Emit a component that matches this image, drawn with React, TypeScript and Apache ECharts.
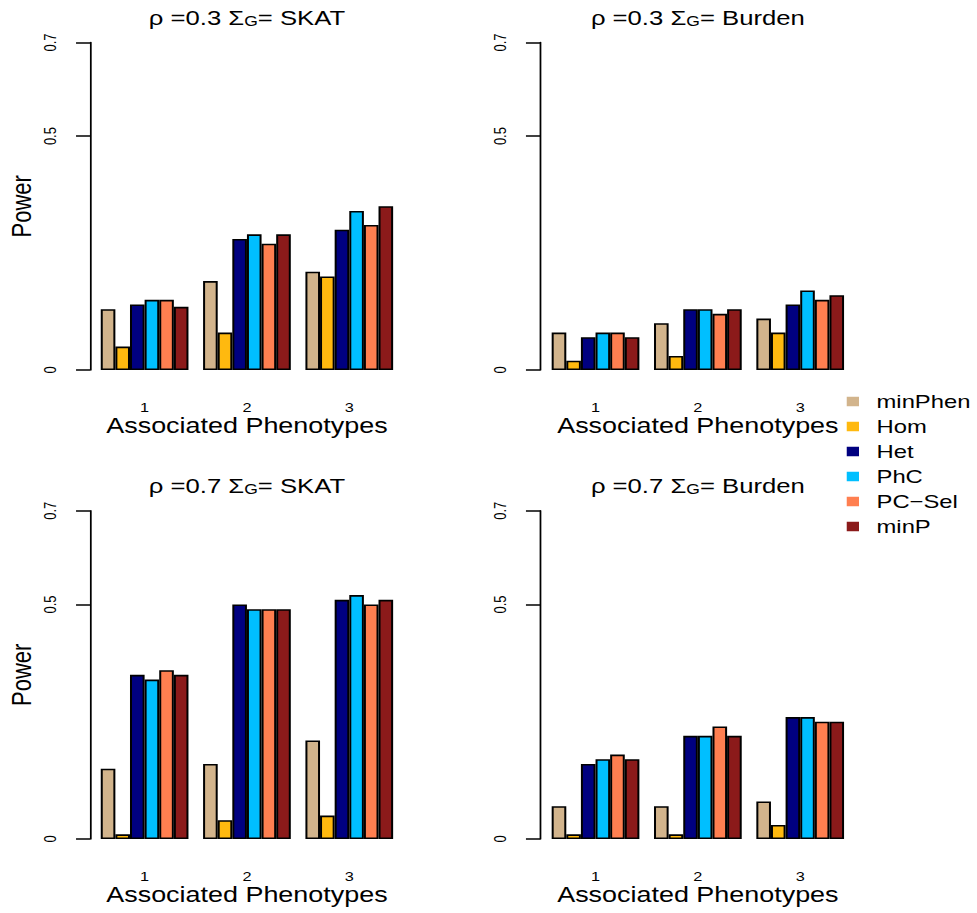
import React, { useEffect, useRef } from 'react';
import * as echarts from 'echarts';

// ---------- data ----------
const categories = ['1', '2', '3'];
const methods = ['minPhen', 'Hom', 'Het', 'PhC', 'PC\u2212Sel', 'minP'];
const yTicks = [0, 0.5, 0.7];

// rows = methods (minPhen, Hom, Het, PhC, PC-Sel, minP), columns = associated phenotypes 1..3
const rho03Skat: number[][] = [
  [0.13, 0.19, 0.21],
  [0.05, 0.08, 0.2],
  [0.14, 0.28, 0.3],
  [0.15, 0.29, 0.34],
  [0.15, 0.27, 0.31],
  [0.135, 0.29, 0.35],
];
const rho03Burden: number[][] = [
  [0.08, 0.1, 0.11],
  [0.02, 0.03, 0.08],
  [0.07, 0.13, 0.14],
  [0.08, 0.13, 0.17],
  [0.08, 0.12, 0.15],
  [0.07, 0.13, 0.16],
];
const rho07Skat: number[][] = [
  [0.15, 0.16, 0.21],
  [0.01, 0.04, 0.05],
  [0.35, 0.5, 0.51],
  [0.34, 0.49, 0.52],
  [0.36, 0.49, 0.5],
  [0.35, 0.49, 0.51],
];
const rho07Burden: number[][] = [
  [0.07, 0.07, 0.08],
  [0.01, 0.01, 0.03],
  [0.16, 0.22, 0.26],
  [0.17, 0.22, 0.26],
  [0.18, 0.24, 0.25],
  [0.17, 0.22, 0.25],
];

const panelRho = ['0.3', '0.3', '0.7', '0.7'];
const panelSigma = ['SKAT', 'Burden', 'SKAT', 'Burden'];
const panelData = [rho03Skat, rho03Burden, rho07Skat, rho07Burden];

// ---------- styles / layout ----------
const colors = ['#D2B48C', '#FFB90F', '#000080', '#00BFFF', '#FF7F50', '#8B1A1A'];
const FONT = 'Liberation Sans, Arial, Helvetica, sans-serif';
const W = 780;
const H = 913;
const SX = 977 / W;

const gridLeft = [74.6, 434.6, 74.6, 434.6];
const gridTop = [42.5, 42.5, 510.7, 510.7];
const gridW = 245.1;
const gridH = [327.5, 327.5, 328.3, 328.3];
const axisOffset = [2.7, 3.5, 2.7, 3.5];

function buildOption() {
  const grid = panelData.map((_, i) => ({
    left: gridLeft[i],
    top: gridTop[i],
    width: gridW,
    height: gridH[i],
    containLabel: false,
  }));

  const xAxis = panelData.map((_, i) => ({
    gridIndex: i,
    type: 'category',
    data: categories,
    axisLine: { show: false },
    axisTick: { show: false },
    splitLine: { show: false },
    axisLabel: { margin: 31, fontSize: 13, color: '#000', fontFamily: FONT },
    name: 'Associated Phenotypes',
    nameLocation: 'middle',
    nameGap: 44,
    nameTextStyle: { fontSize: 21.5, color: '#000', fontFamily: FONT },
  }));

  const yAxis = panelData.map((_, i) => ({
    gridIndex: i,
    type: 'value',
    min: 0,
    max: 0.7,
    offset: axisOffset[i],
    axisLine: { show: true, lineStyle: { color: '#000', width: 1.4 } },
    axisTick: {
      show: true,
      length: 11.2,
      customValues: yTicks,
      lineStyle: { color: '#000', width: 1.5 },
    },
    axisLabel: {
      customValues: yTicks,
      rotate: 90,
      margin: 25,
      fontSize: 13,
      color: '#000',
      fontFamily: FONT,
    },
    splitLine: { show: false },
    name: i % 2 === 0 ? 'Power' : '',
    nameLocation: 'middle',
    nameRotate: 90,
    nameGap: 44,
    nameTextStyle: { fontSize: 22, color: '#000', fontFamily: FONT },
  }));

  const series: any[] = [];
  panelData.forEach((rows, i) => {
    rows.forEach((vals, j) => {
      series.push({
        type: 'bar',
        name: methods[j],
        xAxisIndex: i,
        yAxisIndex: i,
        data: vals,
        barGap: '0%',
        barCategoryGap: '14.2857%',
        itemStyle: { color: colors[j], borderColor: '#000', borderWidth: 1.6 },
        emphasis: { disabled: true },
      });
    });
  });

  const graphic = panelData.map((_, i) => ({
    type: 'text',
    x: gridLeft[i] + gridW / 2,
    y: i < 2 ? 17.5 : 485.5,
    silent: true,
    style: {
      text: '\u03C1 =' + panelRho[i] + ' \u03A3{sub|G}= ' + panelSigma[i],
      fontSize: 20.5,
      fontFamily: FONT,
      fill: '#000',
      align: 'center',
      verticalAlign: 'middle',
      lineHeight: 21,
      rich: {
        sub: { fontSize: 14, lineHeight: 14, verticalAlign: 'bottom', fontFamily: FONT, fill: '#000' },
      },
    },
  }));

  return {
    animation: false,
    backgroundColor: '#fff',
    textStyle: { fontFamily: FONT },
    grid,
    xAxis,
    yAxis,
    series,
    graphic,
    legend: {
      orient: 'vertical',
      left: 676,
      top: 392,
      padding: 0,
      itemWidth: 9.8,
      itemHeight: 9.5,
      itemGap: 6,
      icon: 'rect',
      selectedMode: false,
      itemStyle: { borderWidth: 0 },
      textStyle: { fontSize: 19, lineHeight: 19, color: '#000', fontFamily: FONT, padding: [0, 0, 0, 9] },
      data: methods,
    },
  };
}

export default function App() {
  const ref = useRef<HTMLDivElement>(null);
  useEffect(() => {
    if (!ref.current) return;
    const chart = echarts.init(ref.current, null, { renderer: 'svg', width: W, height: H });
    chart.setOption(buildOption() as any);
    return () => chart.dispose();
  }, []);
  return (
    <div
      style={{
        position: 'fixed',
        left: 0,
        top: 0,
        width: 977,
        height: 913,
        overflow: 'hidden',
        background: '#fff',
      }}
    >
      <div
        ref={ref}
        style={{ width: W, height: H, transform: `scaleX(${SX})`, transformOrigin: '0 0' }}
      />
    </div>
  );
}
